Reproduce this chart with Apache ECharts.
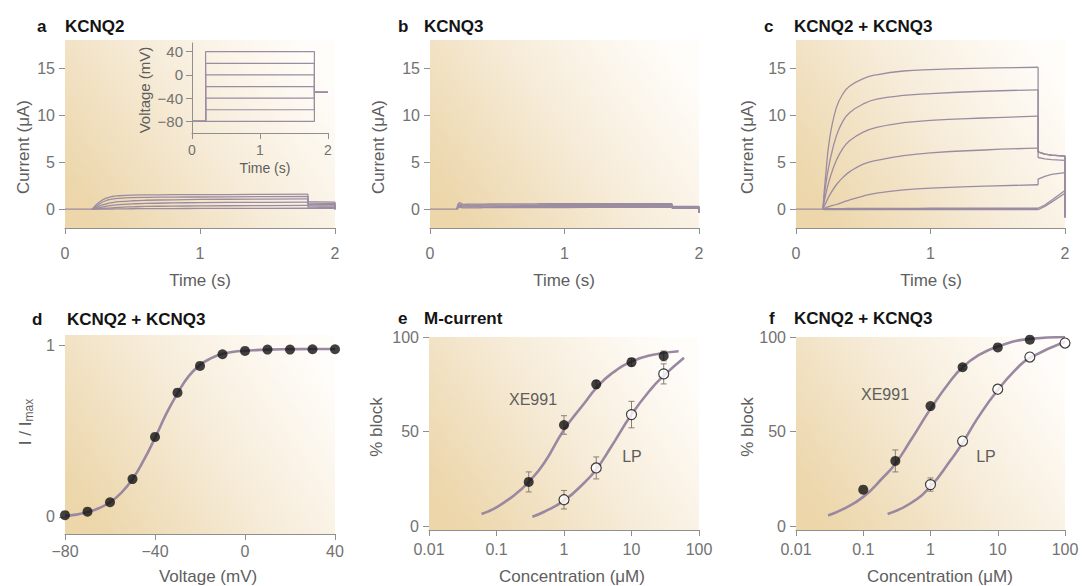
<!DOCTYPE html>
<html>
<head>
<meta charset="utf-8">
<script src="https://cdn.jsdelivr.net/npm/echarts@6/dist/echarts.min.js"></script>
<style>
html, body { margin: 0; padding: 0; background: #fff; }
#chart { width: 1083px; height: 586px; }
</style>
</head>
<body>
<div id="chart"></div>
<script>
// ---------- data ----------
// current traces (uA): a step from 0.2 s to 1.8 s, then a tail to 2 s
const stepTime = [0, 0.2, 0.22, 0.25, 0.3, 0.35, 0.4, 0.5, 0.6, 0.8, 1.0, 1.4, 1.8]
const tailTime = [1.8, 1.85, 1.9, 2.0]

const kcnq2Steps = [
  [0, 0, 0.3, 0.7, 1.15, 1.35, 1.43, 1.5, 1.52, 1.54, 1.55, 1.57, 1.6],
  [0, 0, 0.2, 0.5, 0.9, 1.08, 1.16, 1.23, 1.26, 1.29, 1.3, 1.33, 1.35],
  [0, 0, 0.1, 0.3, 0.55, 0.7, 0.8, 0.9, 0.95, 1.0, 1.04, 1.07, 1.1],
  [0, 0, 0.05, 0.15, 0.3, 0.4, 0.48, 0.56, 0.62, 0.67, 0.7, 0.73, 0.75],
  [0, 0, 0, 0.05, 0.1, 0.15, 0.2, 0.25, 0.29, 0.33, 0.35, 0.38, 0.4],
  [0, 0, 0, 0, 0, 0.02, 0.03, 0.05, 0.06, 0.07, 0.08, 0.09, 0.1]
]
const kcnq2Tails = [
  [0.8, 0.78, 0.77, 0.75],
  [0.65, 0.64, 0.63, 0.62],
  [0.5, 0.5, 0.49, 0.48],
  [0.35, 0.35, 0.34, 0.34],
  [0.22, 0.22, 0.21, 0.2],
  [0.1, 0.1, 0.1, 0.1]
]
const kcnq2Drop = 0

const kcnq3Steps = [
  [0, 0, 0.7, 0.52, 0.53, 0.54, 0.55, 0.56, 0.57, 0.58, 0.59, 0.6, 0.6],
  [0, 0, 0.55, 0.43, 0.44, 0.44, 0.45, 0.46, 0.46, 0.47, 0.48, 0.49, 0.5],
  [0, 0, 0.4, 0.33, 0.34, 0.34, 0.35, 0.35, 0.36, 0.37, 0.38, 0.39, 0.4],
  [0, 0, 0.3, 0.24, 0.24, 0.25, 0.25, 0.26, 0.26, 0.27, 0.28, 0.29, 0.3],
  [0, 0, 0.2, 0.15, 0.15, 0.15, 0.16, 0.16, 0.17, 0.17, 0.18, 0.19, 0.2]
]
const kcnq3Tails = [
  [0.3, 0.3, 0.3, 0.3],
  [0.25, 0.25, 0.25, 0.25],
  [0.2, 0.2, 0.2, 0.2],
  [0.15, 0.15, 0.15, 0.15],
  [0.1, 0.1, 0.1, 0.1]
]
const kcnq3Drop = -0.4

const hetSteps = [
  [0, 0, 3.5, 7.5, 10.8, 12.3, 13.1, 13.9, 14.3, 14.7, 14.85, 15.0, 15.1],
  [0, 0, 2.5, 5.0, 7.8, 9.4, 10.3, 11.2, 11.7, 12.1, 12.3, 12.55, 12.7],
  [0, 0, 1.5, 3.2, 5.2, 6.5, 7.3, 8.2, 8.7, 9.2, 9.45, 9.7, 9.9],
  [0, 0, 0.6, 1.5, 2.6, 3.4, 4.0, 4.8, 5.2, 5.7, 6.0, 6.3, 6.5],
  [0, 0, 0.15, 0.3, 0.5, 0.75, 1.0, 1.4, 1.7, 2.05, 2.25, 2.45, 2.6],
  [0, 0, 0.05, 0.06, 0.07, 0.07, 0.08, 0.08, 0.09, 0.09, 0.1, 0.1, 0.1],
  [0, 0, -0.05, -0.05, -0.05, -0.05, -0.05, -0.05, -0.05, -0.05, -0.05, -0.05, -0.05]
]
const hetTails = [
  [6.1, 5.85, 5.75, 5.65],
  [6.1, 5.85, 5.75, 5.65],
  [6.1, 5.85, 5.75, 5.65],
  [5.5, 5.35, 5.28, 5.2],
  [3.2, 3.5, 3.7, 3.9],
  [0.1, 0.45, 0.95, 2.0],
  [0, 0.3, 0.75, 1.7]
]
const hetDrop = -0.85

// inset: voltage protocol (mV)
const protoLevels = [-80, -60, -40, -20, 0, 20, 40]
const protoHold = -80
const protoTail = -30

// d: activation curve
const dVoltage = [-80, -70, -60, -50, -40, -30, -20, -10, 0, 10, 20, 30, 40]
const dRatio = [0.01, 0.03, 0.085, 0.22, 0.466, 0.724, 0.88, 0.948, 0.967, 0.975, 0.975, 0.977, 0.977]
const dFitVoltage = [-80, -75, -70, -65, -60, -55, -50, -45, -40, -35, -30, -25, -20, -15, -10, -5, 0, 5, 10, 20, 30, 40]
const dFitRatio = [0.005, 0.013, 0.028, 0.05, 0.085, 0.14, 0.22, 0.33, 0.46, 0.6, 0.72, 0.82, 0.885, 0.925, 0.95, 0.962, 0.968, 0.972, 0.975, 0.977, 0.978, 0.978]

// e: M-current block (uM, %)
const eXeConc = [0.3, 1, 3, 10, 30]
const eXeBlock = [23.4, 53.5, 75, 86.7, 90]
const eXeErr = [5.3, 4.9, 2, 2, 2.6]
const eLpConc = [1, 3, 10, 30]
const eLpBlock = [14, 30.8, 59, 80.5]
const eLpErr = [4.9, 5.8, 7, 5.3]
const eXeFitConc = [0.06, 0.1, 0.2, 0.3, 0.5, 1, 2, 3, 5, 10, 20, 50]
const eXeFitBlock = [6.5, 10, 17.5, 23.5, 33, 51, 65, 73, 80.5, 87, 90.5, 92.5]
const eLpFitConc = [0.34, 0.5, 1, 2, 3, 5, 10, 20, 30, 60]
const eLpFitBlock = [5, 7.5, 13.5, 23, 30, 42, 59, 73, 79.5, 89]

// f: KCNQ2 + KCNQ3 block
const fXeConc = [0.1, 0.3, 1, 3, 10, 30]
const fXeBlock = [19.3, 34.5, 63.5, 84, 94.5, 98.6]
const fXeErr = [0, 5.8, 0, 1, 0, 0]
const fLpConc = [1, 3, 10, 30, 100]
const fLpBlock = [22, 45, 72.4, 89.4, 96.8]
const fLpErr = [3.5, 0, 0, 0, 0]
const fXeFitConc = [0.03, 0.05, 0.1, 0.2, 0.3, 0.5, 1, 2, 3, 5, 10, 30, 100]
const fXeFitBlock = [5.7, 9, 15.5, 26, 33, 45, 62, 77, 84, 90, 95, 99, 100]
const fLpFitConc = [0.23, 0.5, 1, 2, 3, 5, 10, 20, 30, 100]
const fLpFitBlock = [6.5, 12, 21, 35, 44, 57, 72, 84, 89, 97.5]

// tick labels
const currentTicks = [0, 5, 10, 15]
const inVoltTicks = [-80, -40, 0, 40]
const ratioTicks = [0, 1]
const blockTicks = [0, 50, 100]
const concTicks = [0.01, 0.1, 1, 10, 100]

// ---------- styling ----------
const FONT = '"Liberation Sans", Arial, Helvetica, sans-serif'
const COL = {
  trace: '#9b8ca1', fit: '#9a88a0', axis: '#8f8f8f', tick: '#727272',
  name: '#5e5e5e', title: '#141414', err: '#8a7e78', dot: '#111'
}
const bg = {
  type: 'linear', x: 0, y: 0.75, x2: 1, y2: 0.25,
  colorStops: [
    { offset: 0, color: '#ecd6aa' },
    { offset: 0.5, color: '#f6ebd7' },
    { offset: 1, color: '#fffdfa' }
  ]
}
const minus = v => String(v).replace('-', '\u2212')
const logLabel = v => String(parseFloat(Number(v).toPrecision(3)))

const grids = [
  { left: 65, top: 40, width: 270, height: 188 },   // a
  { left: 430, top: 40, width: 269, height: 188 },  // b
  { left: 796, top: 40, width: 269, height: 188 },  // c
  { left: 65, top: 335, width: 270, height: 199 },  // d
  { left: 429, top: 337, width: 270, height: 193 }, // e
  { left: 796, top: 337, width: 269, height: 193 }, // f
  { left: 192, top: 43, width: 136, height: 90 }    // inset
].map((g, i) => Object.assign(g, {
  show: i < 6, backgroundColor: bg, borderWidth: 0, containLabel: false
}))

const TICK_FS = 16
function xAxis(gi, opts, labelMargin) {
  return Object.assign({
    gridIndex: gi, type: 'value',
    axisLine: { show: true, onZero: false, lineStyle: { color: COL.axis, width: 1 } },
    axisTick: { show: true, length: 6, lineStyle: { color: COL.axis } },
    axisLabel: { color: COL.tick, fontSize: TICK_FS, fontFamily: FONT, margin: labelMargin, formatter: minus },
    splitLine: { show: false }
  }, opts)
}
function yAxis(gi, min, max, ticks, opts) {
  return Object.assign({
    gridIndex: gi, type: 'value', min: min, max: max,
    axisLine: { show: false, onZero: false },
    axisTick: { show: true, length: 6, customValues: ticks, lineStyle: { color: COL.axis } },
    axisLabel: { customValues: ticks, color: COL.tick, fontSize: TICK_FS, fontFamily: FONT, margin: 10, formatter: minus },
    splitLine: { show: false }
  }, opts)
}
const logAxis = gi => xAxis(gi, {
  type: 'log', min: 0.01, max: 100, logBase: 10,
  axisTick: { show: true, length: 6, customValues: concTicks, lineStyle: { color: COL.axis } },
  axisLabel: { customValues: concTicks, color: COL.tick, fontSize: TICK_FS, fontFamily: FONT, margin: 11, formatter: logLabel }
}, 11)

const xAxes = [
  xAxis(0, { min: 0, max: 2, interval: 1 }, 17),
  xAxis(1, { min: 0, max: 2, interval: 1 }, 17),
  xAxis(2, { min: 0, max: 2, interval: 1 }, 17),
  xAxis(3, { min: -80, max: 40, interval: 40 }, 9),
  logAxis(4),
  logAxis(5),
  xAxis(6, { min: 0, max: 2, interval: 1,
    axisLabel: { color: COL.tick, fontSize: 14, fontFamily: FONT, margin: 10 } }, 10)
]
const yAxes = [
  yAxis(0, -2, 18, currentTicks),
  yAxis(1, -2, 18, currentTicks),
  yAxis(2, -2, 18, currentTicks),
  yAxis(3, -0.1, 1.06, ratioTicks),
  yAxis(4, -2, 100, blockTicks),
  yAxis(5, -2, 100, blockTicks),
  yAxis(6, -100, 55, inVoltTicks, {
    axisLine: { show: true, onZero: false, lineStyle: { color: COL.axis, width: 1 } },
    axisLabel: { customValues: inVoltTicks, color: COL.tick, fontSize: 15, fontFamily: FONT, margin: 9, formatter: minus }
  })
]

// ---------- series ----------
const series = []
const line = (gi, data, extra) => Object.assign({
  type: 'line', xAxisIndex: gi, yAxisIndex: gi, data: data, symbol: 'none', silent: true,
  lineStyle: { color: COL.trace, width: 1.3 }
}, extra)

function addTraces(gi, steps, tails, drop) {
  series.push(line(gi, [[0, 0], [0.2, 0]]))
  steps.forEach((vals, k) => {
    const rise = stepTime.slice(1).map((t, i) => [t, vals[i + 1]])
    series.push(line(gi, rise, { smooth: 0.45 }))
    const tail = [[1.8, vals[vals.length - 1]]].concat(tailTime.map((t, i) => [t, tails[k][i]]))
    tail.push([2, drop])
    series.push(line(gi, tail))
  })
}
addTraces(0, kcnq2Steps, kcnq2Tails, kcnq2Drop)
addTraces(1, kcnq3Steps, kcnq3Tails, kcnq3Drop)
addTraces(2, hetSteps, hetTails, hetDrop)

// inset protocol
protoLevels.forEach(v => {
  series.push(line(6, [[0, protoHold], [0.2, protoHold], [0.2, v], [1.8, v], [1.8, protoTail], [2, protoTail]],
    { lineStyle: { color: COL.trace, width: 1.2 } }))
})

const zip = (xs, ys) => xs.map((x, i) => [x, ys[i]])
const fitLine = (gi, xs, ys) => line(gi, zip(xs, ys), {
  smooth: 0.5, z: 2, lineStyle: { color: COL.fit, width: 2.6 }
})
const dots = (gi, xs, ys, open) => ({
  type: 'scatter', xAxisIndex: gi, yAxisIndex: gi, data: zip(xs, ys), symbol: 'circle', symbolSize: 10, z: 4,
  itemStyle: open ? { color: '#fff', borderColor: COL.dot, borderWidth: 1.2 } : { color: COL.dot }
})
function errBars(gi, xs, ys, errs) {
  const data = xs.map((x, i) => [x, ys[i] - errs[i], ys[i] + errs[i]]).filter((d, i) => errs[i] > 0)
  return {
    type: 'custom', xAxisIndex: gi, yAxisIndex: gi, z: 3, silent: true,
    data: data, encode: { x: 0, y: [1, 2] },
    renderItem: (params, api) => {
      const lo = api.coord([api.value(0), api.value(1)])
      const hi = api.coord([api.value(0), api.value(2)])
      const st = { stroke: COL.err, lineWidth: 1 }
      return { type: 'group', children: [
        { type: 'line', shape: { x1: lo[0], y1: lo[1], x2: hi[0], y2: hi[1] }, style: st },
        { type: 'line', shape: { x1: lo[0] - 3, y1: lo[1], x2: lo[0] + 3, y2: lo[1] }, style: st },
        { type: 'line', shape: { x1: hi[0] - 3, y1: hi[1], x2: hi[0] + 3, y2: hi[1] }, style: st }
      ] }
    }
  }
}

series.push(fitLine(3, dFitVoltage, dFitRatio), dots(3, dVoltage, dRatio, false))

series.push(fitLine(4, eXeFitConc, eXeFitBlock), fitLine(4, eLpFitConc, eLpFitBlock),
  errBars(4, eXeConc, eXeBlock, eXeErr), errBars(4, eLpConc, eLpBlock, eLpErr),
  dots(4, eXeConc, eXeBlock, false), dots(4, eLpConc, eLpBlock, true))

series.push(fitLine(5, fXeFitConc, fXeFitBlock), fitLine(5, fLpFitConc, fLpFitBlock),
  errBars(5, fXeConc, fXeBlock, fXeErr), errBars(5, fLpConc, fLpBlock, fLpErr),
  dots(5, fXeConc, fXeBlock, false), dots(5, fLpConc, fLpBlock, true))

// ---------- texts ----------
const txt = (x, y, text, o) => Object.assign({
  type: 'text', x: x, y: y, silent: true,
  style: Object.assign({ text: text, fill: COL.name, fontSize: 17, fontFamily: FONT, align: 'center', verticalAlign: 'middle' }, o || {})
})
const vtxt = (x, y, text, o) => Object.assign(txt(x, y, text, o), { rotation: Math.PI / 2 })
const ttl = (x, y, text) => txt(x, y, text, { fill: COL.title, fontSize: 17, fontWeight: 'bold', align: 'left' })

const graphic = [
  ttl(37, 26, 'a'), ttl(65, 26, 'KCNQ2'),
  ttl(398, 26, 'b'), ttl(424, 26, 'KCNQ3'),
  ttl(764, 26, 'c'), ttl(794, 26, 'KCNQ2 + KCNQ3'),
  ttl(32, 319, 'd'), ttl(67, 319, 'KCNQ2 + KCNQ3'),
  ttl(398, 318, 'e'), ttl(424, 318, 'M-current'),
  ttl(769, 318, 'f'), ttl(794, 318, 'KCNQ2 + KCNQ3'),

  vtxt(23, 147, 'Current (\u03bcA)'), vtxt(378, 147, 'Current (\u03bcA)'), vtxt(747, 147, 'Current (\u03bcA)'),
  txt(200, 280, 'Time (s)'), txt(564, 280, 'Time (s)'), txt(931, 280, 'Time (s)'),
  txt(265, 168, 'Time (s)', { fontSize: 14 }), vtxt(144, 90, 'Voltage (mV)', { fontSize: 15 }),

  vtxt(25, 422, 'I / I{sub|max}', { rich: { sub: { fontSize: 12, fill: COL.name, fontFamily: FONT, verticalAlign: 'bottom', padding: [7, 0, 0, 0] } } }),
  txt(208, 576, 'Voltage (mV)'),
  vtxt(376, 427, '% block'), txt(572, 576, 'Concentration (\u03bcM)'),
  vtxt(747, 427, '% block'), txt(940, 576, 'Concentration (\u03bcM)'),

  txt(533, 399, 'XE991', { fontSize: 16 }), txt(632, 456, 'LP', { fontSize: 16 }),
  txt(885, 394, 'XE991', { fontSize: 16 }), txt(986, 456, 'LP', { fontSize: 16 })
]

const chart = echarts.init(document.getElementById('chart'), null, { renderer: 'svg' })
chart.setOption({
  animation: false,
  backgroundColor: '#fff',
  grid: grids,
  xAxis: xAxes,
  yAxis: yAxes,
  series: series,
  graphic: graphic
})
window.addEventListener('resize', () => chart.resize())
</script>
</body>
</html>
